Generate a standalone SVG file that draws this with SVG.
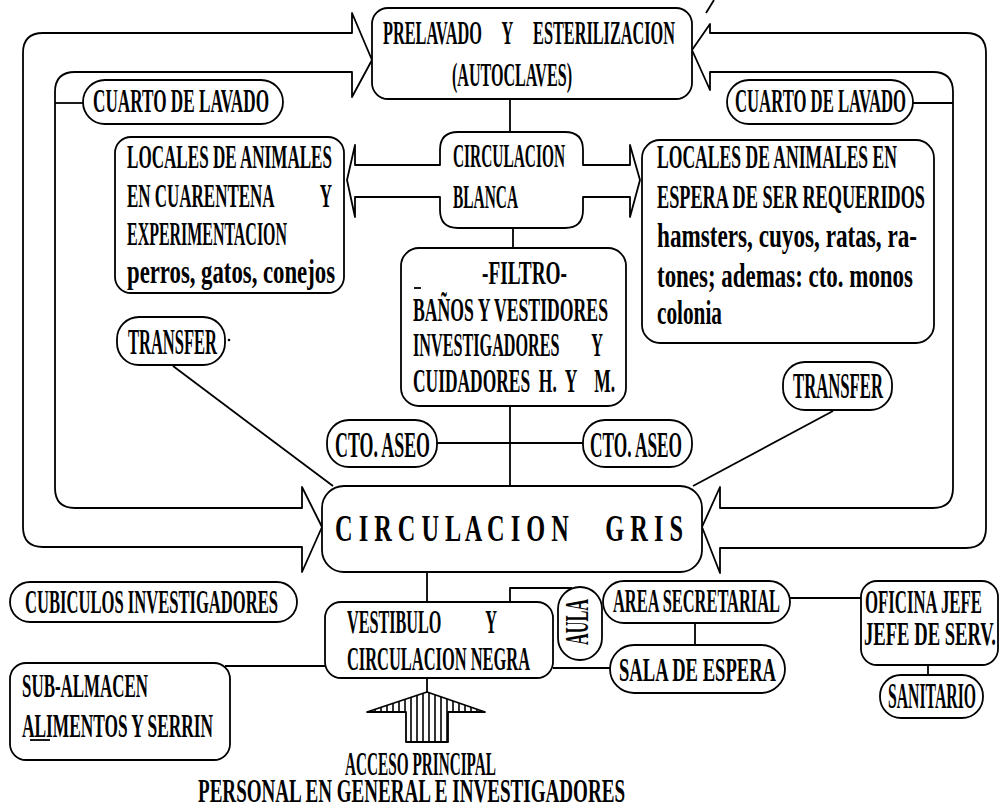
<svg xmlns="http://www.w3.org/2000/svg" width="1000" height="811" viewBox="0 0 1000 811">
<style>
.s{fill:none;stroke:#000;stroke-width:1.8;stroke-linejoin:round}
.b{fill:#fff;stroke:#000;stroke-width:1.8}
.t{font-family:"Liberation Serif","Times New Roman",serif;font-size:33px;font-weight:bold;fill:#000;white-space:pre}
.m{font-size:35px}
.g{font-size:38px}
</style>
<defs>
<pattern id="hatch" patternUnits="userSpaceOnUse" width="6" height="10">
<line x1="3" y1="0" x2="3" y2="10" stroke="#000" stroke-width="1.6"/>
</pattern>
</defs>
<rect width="1000" height="811" fill="#fff"/>
<g id="connectors">
<path class="s" d="M352,33 L43,33 Q23,33 23,53 L23,527 Q23,547 43,547 L302,547 L302,572 L322,527 L302,487 L302,508 L75,508 Q55,508 55,488 L55,92 Q55,72 75,72 L352,72 L352,97 L372,60 L352,13 Z"/>
<path class="s" d="M710,33 L966,33 Q986,33 986,53 L986,528 Q986,548 966,548 L720,548 L720,573 L702,527 L720,487 L720,508 L933,508 Q953,508 953,488 L953,92 Q953,72 933,72 L710,72 L710,90 L692,50 L710,24 Z"/>
<line class="s" x1="706" y1="13" x2="714" y2="0"/>
<line class="s" x1="510" y1="99" x2="510" y2="132"/>
<line class="s" x1="513" y1="228" x2="513" y2="248"/>
<line class="s" x1="55" y1="103" x2="83" y2="103"/>
<line class="s" x1="913" y1="103" x2="953" y2="103"/>
<line class="s" x1="510" y1="406" x2="510" y2="486"/>
<line class="s" x1="437" y1="443" x2="583" y2="443"/>
<line class="s" x1="173" y1="366" x2="333" y2="486"/>
<line class="s" x1="833" y1="411" x2="693" y2="486"/>
<line class="s" x1="427" y1="572" x2="427" y2="602"/>
<path class="s" d="M510,602 V588 H572"/>
<line class="s" x1="553" y1="668" x2="610" y2="668"/>
<line class="s" x1="695" y1="623" x2="695" y2="645"/>
<line class="s" x1="790" y1="598" x2="861" y2="598"/>
<line class="s" x1="928" y1="665" x2="928" y2="675"/>
<line class="s" x1="225" y1="666" x2="328" y2="666"/>
<line class="s" x1="427" y1="678" x2="427" y2="692"/>
</g>
<g id="prelavado">
<rect class="b" x="372" y="8" width="320" height="91" rx="16"/>
<text class="t" x="383" y="44" textLength="292" lengthAdjust="spacingAndGlyphs">PRELAVADO     Y     ESTERILIZACION</text>
<text class="t" x="452" y="86" textLength="120" lengthAdjust="spacingAndGlyphs">(AUTOCLAVES)</text>
</g>
<g id="cuarto-lavado-izq">
<rect class="b" x="83" y="80" width="200" height="44" rx="22"/>
<text class="t" x="93" y="112" textLength="176" lengthAdjust="spacingAndGlyphs">CUARTO DE LAVADO</text>
</g>
<g id="cuarto-lavado-der">
<rect class="b" x="727" y="80" width="186" height="44" rx="22"/>
<text class="t" x="735" y="112" textLength="171" lengthAdjust="spacingAndGlyphs">CUARTO DE LAVADO</text>
</g>
<g id="circulacion-blanca">
<path class="s" d="M440,165 L440,150 Q440,132 458,132 L565,132 Q583,132 583,150 L583,165 L630,165 L630,145 L640,180 L630,217 L630,197 L583,197 L583,210 Q583,228 565,228 L458,228 Q440,228 440,210 L440,197 L355,197 L355,217 L347,180 L355,145 L355,165 Z"/>
<text class="t" x="453" y="167" textLength="112" lengthAdjust="spacingAndGlyphs">CIRCULACION</text>
<text class="t" x="453" y="208" textLength="65" lengthAdjust="spacingAndGlyphs">BLANCA</text>
</g>
<g id="locales-cuarentena">
<rect class="b" x="115" y="137" width="229" height="156" rx="16"/>
<text class="t" x="127" y="168" textLength="205" lengthAdjust="spacingAndGlyphs">LOCALES DE ANIMALES</text>
<text class="t" x="127" y="207" textLength="205" lengthAdjust="spacingAndGlyphs">EN CUARENTENA           Y</text>
<text class="t" x="127" y="245" textLength="160" lengthAdjust="spacingAndGlyphs">EXPERIMENTACION</text>
<text class="t" x="127" y="283" textLength="208" lengthAdjust="spacingAndGlyphs">perros, gatos, conejos</text>
</g>
<g id="locales-espera">
<rect class="b" x="642" y="140" width="292" height="203" rx="18"/>
<text class="t" x="657" y="168" textLength="240" lengthAdjust="spacingAndGlyphs">LOCALES DE ANIMALES EN</text>
<text class="t" x="657" y="208" textLength="268" lengthAdjust="spacingAndGlyphs">ESPERA DE SER REQUERIDOS</text>
<text class="t" x="657" y="247" textLength="260" lengthAdjust="spacingAndGlyphs">hamsters, cuyos, ratas, ra-</text>
<text class="t" x="657" y="287" textLength="256" lengthAdjust="spacingAndGlyphs">tones; ademas: cto. monos</text>
<text class="t" x="657" y="324" textLength="65" lengthAdjust="spacingAndGlyphs">colonia</text>
</g>
<g id="filtro">
<rect class="b" x="401" y="248" width="225" height="158" rx="18"/>
<text class="t" x="482" y="284" textLength="85" lengthAdjust="spacingAndGlyphs">-FILTRO-</text>
<line class="s" x1="414" y1="288" x2="421" y2="288"/>
<text class="t" x="413" y="321" textLength="195" lengthAdjust="spacingAndGlyphs">BAÑOS Y VESTIDORES</text>
<text class="t" x="413" y="356" textLength="190" lengthAdjust="spacingAndGlyphs">INVESTIGADORES        Y</text>
<text class="t" x="413" y="392" textLength="202" lengthAdjust="spacingAndGlyphs">CUIDADORES  H.  Y    M.</text>
</g>
<g id="transfer-izq">
<rect class="b" x="117" y="317" width="108" height="48" rx="22"/>
<text class="t m" x="128" y="354" textLength="89" lengthAdjust="spacingAndGlyphs">TRANSFER</text>
<circle cx="229" cy="340" r="1.3" fill="#000"/>
</g>
<g id="transfer-der">
<rect class="b" x="783" y="362" width="109" height="48" rx="22"/>
<text class="t m" x="793" y="398" textLength="90" lengthAdjust="spacingAndGlyphs">TRANSFER</text>
</g>
<g id="cto-aseo-izq">
<rect class="b" x="327" y="420" width="110" height="47" rx="22"/>
<text class="t m" x="335" y="457" textLength="95" lengthAdjust="spacingAndGlyphs">CTO. ASEO</text>
</g>
<g id="cto-aseo-der">
<rect class="b" x="583" y="420" width="109" height="47" rx="22"/>
<text class="t m" x="590" y="457" textLength="92" lengthAdjust="spacingAndGlyphs">CTO. ASEO</text>
</g>
<g id="circulacion-gris">
<rect class="b" x="322" y="486" width="380" height="86" rx="22"/>
<text class="t g" x="335" y="541" textLength="348" lengthAdjust="spacingAndGlyphs">C I R C U L A C I O N      G R I S</text>
</g>
<g id="cubiculos">
<rect class="b" x="10" y="582" width="287" height="40" rx="20"/>
<text class="t" x="25" y="613" textLength="253" lengthAdjust="spacingAndGlyphs">CUBICULOS INVESTIGADORES</text>
</g>
<g id="vestibulo">
<rect class="b" x="325" y="602" width="228" height="76" rx="16"/>
<text class="t" x="347" y="633" textLength="150" lengthAdjust="spacingAndGlyphs">VESTIBULO           Y</text>
<text class="t" x="347" y="670" textLength="183" lengthAdjust="spacingAndGlyphs">CIRCULACION NEGRA</text>
</g>
<g id="aula">
<rect class="b" x="558" y="587" width="44" height="73" rx="22"/>
<text class="t" font-size="28" transform="translate(588,622) rotate(-90)" text-anchor="middle" textLength="46" lengthAdjust="spacingAndGlyphs">AULA</text>
</g>
<g id="area-secretarial">
<rect class="b" x="603" y="581" width="187" height="42" rx="21"/>
<text class="t" x="613" y="612" textLength="167" lengthAdjust="spacingAndGlyphs">AREA SECRETARIAL</text>
</g>
<g id="sala-espera">
<rect class="b" x="610" y="645" width="175" height="48" rx="24"/>
<text class="t" font-size="37" x="619" y="681" textLength="157" lengthAdjust="spacingAndGlyphs">SALA DE ESPERA</text>
</g>
<g id="oficina-jefe">
<rect class="b" x="861" y="581" width="137" height="84" rx="16"/>
<text class="t" font-size="30" x="865" y="613" textLength="117" lengthAdjust="spacingAndGlyphs">OFICINA JEFE</text>
<text class="t" font-size="30" x="864" y="645" textLength="132" lengthAdjust="spacingAndGlyphs">JEFE DE SERV.</text>
</g>
<g id="sanitario">
<rect class="b" x="880" y="675" width="103" height="43" rx="21"/>
<text class="t m" x="888" y="708" textLength="88" lengthAdjust="spacingAndGlyphs">SANITARIO</text>
</g>
<g id="sub-almacen">
<rect class="b" x="10" y="663" width="220" height="97" rx="16"/>
<text class="t" x="22" y="697" textLength="126" lengthAdjust="spacingAndGlyphs">SUB-ALMACEN</text>
<text class="t" x="22" y="737" textLength="191" lengthAdjust="spacingAndGlyphs">ALIMENTOS Y SERRIN</text>
<line class="s" x1="30" y1="740" x2="50" y2="740"/>
</g>
<g id="acceso-principal">
<path d="M427,692 L367,712 L406,712 L406,742 L448,742 L448,712 L485,712 Z" fill="url(#hatch)" stroke="#000" stroke-width="1.8" stroke-linejoin="round"/>
<text class="t" x="345" y="775" textLength="151" lengthAdjust="spacingAndGlyphs">ACCESO PRINCIPAL</text>
<text class="t" x="198" y="802" textLength="427" lengthAdjust="spacingAndGlyphs">PERSONAL EN GENERAL E INVESTIGADORES</text>
</g>
</svg>
